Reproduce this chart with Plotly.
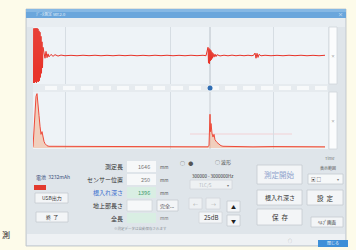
import plotly.graph_objects as go

# ---------------- data ----------------
top_t = [0, 0.5, 1, 1.5, 2, 2.5, 3, 3.5, 4, 4.5, 5, 5.5, 6, 6.5, 7, 7.5, 8, 8.5, 9, 9.5, 10,
         11, 12, 13, 14, 15, 16, 18, 20, 22, 25, 28,
         32, 38, 44, 50, 56, 62, 68, 74, 80, 86, 92, 98, 104, 110, 116, 122, 128, 134, 140,
         146, 152, 158, 164, 170, 173,
         175, 175.5, 176, 176.5, 177, 177.5, 178, 178.5, 179, 179.5, 180, 181, 182, 183, 184,
         187, 191, 195, 199, 203, 207, 211, 215, 219,
         221, 222, 223, 224, 225, 226, 228,
         232, 238, 244, 250, 256, 262, 268, 274, 280, 286, 292]
top_v = [1, -1, 0.98, -1, 1, -0.97, 0.99, -1, 1, -0.95, 0.97, -0.96, 0.9, -0.92, 0.85, -0.8, 0.7, -0.65, 0.5, -0.45, 0.3,
         0.12, -0.1, 0.15, -0.08, 0.06, -0.05, 0.04, -0.03, 0.03, -0.02, 0.015,
         -0.008, 0.006, -0.008, 0.008, -0.006, 0.008, -0.008, 0.006, -0.008, 0.008, -0.006, 0.008, -0.008, 0.006, -0.008, 0.008, -0.006, 0.008, -0.008,
         0.006, -0.008, 0.008, -0.006, 0.008, -0.008,
         0.3, -0.28, 0.26, -0.3, 0.22, -0.2, 0.18, -0.15, 0.12, -0.1, 0.08, -0.06, 0.05, -0.04, 0.03,
         -0.015, 0.01, -0.01, 0.012, -0.008, 0.008, -0.008, 0.008, -0.008,
         0.02, 0.09, -0.1, 0.08, -0.07, 0.04, -0.01,
         0.008, -0.008, 0.006, -0.008, 0.008, -0.006, 0.008, -0.008, 0.006, -0.008, 0.008]

bot_t = [0, 1, 2, 3, 4, 5, 6, 7, 8, 9, 10, 11, 12, 13, 14, 16, 18, 20, 25,
         40, 60, 80, 100, 120, 140, 160, 175,
         176, 177, 177.5, 178, 179, 180, 181, 182, 184, 186, 188, 190,
         200, 220, 240, 260, 280, 292]
bot_v = [0.02, 0.3, 0.7, 0.95, 1.0, 0.85, 0.6, 0.4, 0.25, 0.3, 0.2, 0.12, 0.08, 0.05, 0.04, 0.03, 0.03, 0.02, 0.02,
         0.02, 0.025, 0.02, 0.02, 0.025, 0.02, 0.02, 0.02,
         0.05, 0.62, 0.3, 0.45, 0.27, 0.2, 0.25, 0.15, 0.1, 0.06, 0.04, 0.03,
         0.025, 0.02, 0.025, 0.02, 0.02, 0.02]

grid_t = [32, 137, 240]
cursor_t = [177]

W, H = 356, 250
def X(x): return x / W
def Y(y): return 1 - y / H

FONT = "Noto Sans CJK JP"
RED = "#e8342a"

fig = go.Figure()

fig.add_trace(go.Scatter(x=top_t, y=top_v, mode="lines", line=dict(color=RED, width=1),
                         xaxis="x", yaxis="y", hoverinfo="skip", showlegend=False))
fig.add_trace(go.Scatter(x=bot_t, y=bot_v, mode="lines", line=dict(color="#ee4a3a", width=1),
                         fill="tozeroy", fillcolor="rgba(245,150,100,0.4)",
                         xaxis="x2", yaxis="y2", hoverinfo="skip", showlegend=False))

px0, px1 = 33, 328
ax_common = dict(range=[0, 295], showticklabels=False, zeroline=False, showline=False,
                 tickvals=grid_t, showgrid=True, gridcolor="#d6dde3", gridwidth=1, ticks="")
fig.update_layout(
    xaxis=dict(domain=[X(px0), X(px1)], anchor="y", **ax_common),
    yaxis=dict(domain=[Y(84), Y(27)], range=[-1.04, 1.04], anchor="x",
               showticklabels=False, showgrid=False, zeroline=False),
    xaxis2=dict(domain=[X(px0), X(px1)], anchor="y2", **ax_common),
    yaxis2=dict(domain=[Y(149), Y(92)], range=[-0.02, 1.03], anchor="x2",
                showticklabels=False, showgrid=False, zeroline=False),
)

shapes = []
def rect(x0, y0, x1, y1, fill, line=None, lw=0.8, layer="below"):
    shapes.append(dict(type="rect", xref="paper", yref="paper",
                       x0=X(x0), x1=X(x1), y0=Y(y1), y1=Y(y0),
                       fillcolor=fill, line=dict(color=line or fill, width=lw if line else 0),
                       layer=layer))

# window
rect(26, 9, 346, 246, "#dfe5ea", "#b9c0c7")
rect(26, 9, 346, 18, "#6aa6dc")
rect(26, 9, 346, 12, "#86b8e4")
rect(27, 18, 345, 27, "#e8edf1")
# plot backgrounds
rect(px0, 27, px1, 84, "#eef3f7")
rect(px0, 92, px1, 149, "#eef3f7")
# separator strip
rect(px0, 84, px1, 92, "#e6ebef")
for xs in range(45, 325, 18):
    rect(xs, 86, xs + 12, 90, "#f7f9fa")
# right white strips
rect(329, 27, 337, 84, "#fbfcfd", "#cfd5da")
rect(329, 92, 337, 149, "#fbfcfd", "#cfd5da")
# bottom strip of window
rect(27, 234, 345, 245, "#eef1f4")
rect(318, 240, 348, 247, "#3d8fd8")

# cursor line & dot
shapes.append(dict(type="line", xref="x", yref="paper", x0=cursor_t[0], x1=cursor_t[0],
                   y0=Y(84), y1=Y(27), line=dict(color="#b8c0c8", width=1), layer="below"))
shapes.append(dict(type="line", xref="x2", yref="paper", x0=cursor_t[0], x1=cursor_t[0],
                   y0=Y(149), y1=Y(92), line=dict(color="#c8cdd3", width=1), layer="below"))
shapes.append(dict(type="line", xref="paper", yref="paper", x0=X(190), x1=X(292),
                   y0=Y(134), y1=Y(134), line=dict(color="rgba(246,170,170,0.45)", width=1), layer="below"))
shapes.append(dict(type="circle", xref="paper", yref="paper", x0=X(207.5), x1=X(212.5),
                   y0=Y(90.5), y1=Y(85.5), fillcolor="#2f6db3", line=dict(width=0), layer="above"))

# control panel boxes
rect(34, 185, 46, 190, "#e23a2e")
rect(35, 193, 68, 203, "#f3f5f7", "#c4cad0")
rect(36, 212, 68, 222, "#f3f5f7", "#c4cad0")
rect(127, 161, 156, 172, "#f6f8f9")
rect(127, 174, 156, 185, "#f6f8f9")
rect(127, 187, 156, 198, "#d9eee3")
rect(127, 200, 152, 211, "#f6f8f9", "#d0d5da")
rect(157, 200, 178, 211, "#f3f5f7", "#c4cad0")
rect(127, 213, 156, 223, "#d9eee3")
rect(190, 180, 232, 189, "#eef1f3", "#d0d5da")
rect(189, 198, 202, 209, "#eef1f3", "#d0d5da")
rect(206, 198, 220, 209, "#eef1f3", "#d0d5da")
rect(199, 212, 222, 223, "#f3f5f7", "#d0d5da")
rect(227, 201, 240, 212, "#f3f5f7", "#c4cad0")
rect(227, 215, 240, 226, "#f3f5f7", "#c4cad0")
rect(257, 165, 302, 184, "#f3f5f7", "#c4cad0")
rect(257, 190, 302, 205, "#f3f5f7", "#c4cad0")
rect(257, 209, 302, 225, "#f3f5f7", "#c4cad0")
rect(307, 190, 343, 205, "#f3f5f7", "#c4cad0")
rect(308, 174, 343, 184, "#f6f8f9", "#c4cad0")
rect(311, 217, 343, 227, "#f3f5f7", "#c4cad0")

ann = []
def txt(x, y, s, size=6, color="#4a4f55", anchor="center"):
    ann.append(dict(x=X(x), y=Y(y), xref="paper", yref="paper", text=s, showarrow=False,
                    xanchor=anchor, yanchor="middle",
                    font=dict(family=FONT, size=size, color=color)))

txt(34, 13.5, "ﾃﾞｰﾀ測定 ver.2.0", 4, "#eaf3fb", "left")
txt(340, 13.5, "×", 5, "#eaf3fb")
txt(333, 56, "×", 4, "#777")
txt(333, 121, "×", 4, "#777")
txt(330, 158, "Time", 4, "#777")
txt(34, 177, "電池  3232mAh", 5, "#3a4e7a", "left")
txt(51.5, 198, "USB出力", 5, "#333")
txt(52, 217, "終  了", 5, "#333")
txt(125, 166.5, "測定長", 6, "#333", "right")
txt(125, 179.5, "センサー位置", 6, "#333", "right")
txt(125, 192.5, "根入れ深さ", 6, "#3b6fcf", "right")
txt(125, 205.5, "地上部長さ", 6, "#333", "right")
txt(125, 218, "全長", 6, "#333", "right")
txt(152, 166.5, "1646", 5.5, "#777", "right")
txt(152, 179.5, "250", 5.5, "#777", "right")
txt(152, 192.5, "1396", 5.5, "#3a9a6a", "right")
txt(158, 166.5, "mm", 4.5, "#555", "left")
txt(158, 179.5, "mm", 4.5, "#555", "left")
txt(158, 192.5, "mm", 4.5, "#555", "left")
txt(158, 218, "mm", 4.5, "#777", "left")
txt(167.5, 205.5, "完全...", 5, "#444")
txt(140, 228.5, "※測定データは自動保存されます", 3.5, "#8a9096")
txt(178, 162, "○   ●", 5, "#555", "left")
txt(213, 162, "○ 波形", 5, "#555", "left")
txt(190, 175.5, "300000 - 3000000Hz", 4.5, "#333", "left")
txt(205, 184.5, "TLC/S", 4.5, "#b0b5ba")
txt(228, 184.5, "▾", 4, "#777")
txt(195.5, 203.5, "←", 5, "#aaa")
txt(213, 203.5, "→", 5, "#aaa")
txt(210.5, 217.5, "25dB", 6, "#333")
txt(233.5, 206.5, "▲", 5, "#222")
txt(233.5, 220.5, "▼", 5, "#222")
txt(279.5, 174.5, "測定開始", 7.5, "#8fa3cc")
txt(279.5, 197.5, "根入れ深さ", 6, "#333")
txt(279.5, 217, "保  存", 6.5, "#333")
txt(325, 197.5, "設  定", 6.5, "#333")
txt(318, 168, "表示範囲", 4, "#555", "left")
txt(316, 179, "▣ □", 4.5, "#333")
txt(338, 179, "▾", 4, "#777")
txt(327, 222, "ﾍﾙﾌﾟ画面", 4.5, "#333")
txt(290, 241, "○", 4, "#999")
txt(333, 243, "閉じる", 4, "#eaf3fb")
txt(6, 234, "測", 8, "#222")

fig.update_layout(
    width=W, height=H, margin=dict(l=0, r=0, t=0, b=0),
    paper_bgcolor="#fdfbea", plot_bgcolor="rgba(0,0,0,0)",
    shapes=shapes, annotations=ann, showlegend=False,
)

fig.write_html("out.html", config={"displayModeBar": False},
               post_script="document.body.style.margin='0';document.body.style.overflow='hidden';")
